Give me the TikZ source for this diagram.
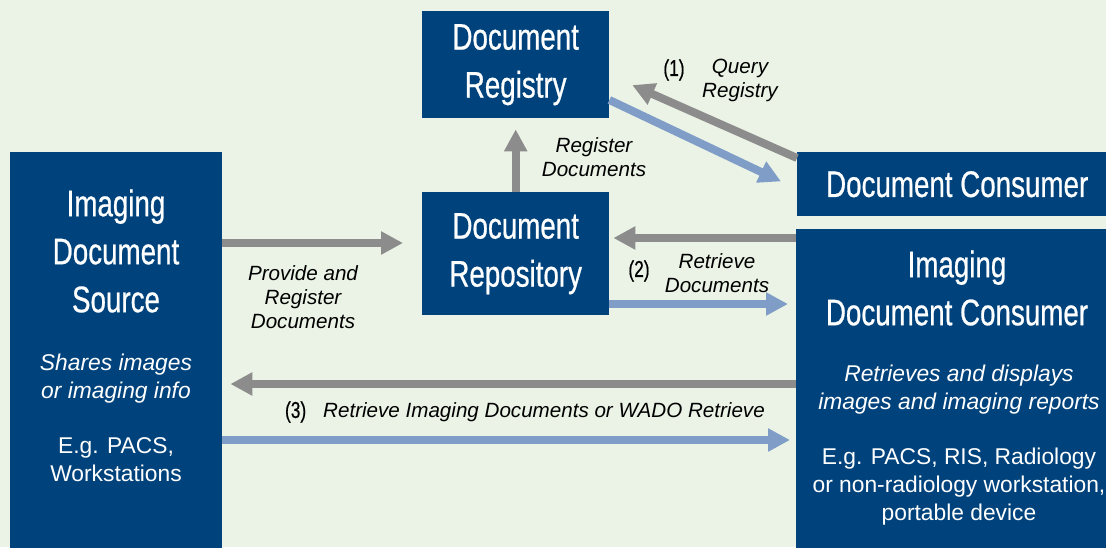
\documentclass[tikz,border=0pt]{standalone}
\usepackage{fontspec}
\setmainfont{Liberation Sans}
\newfontfamily\condfont[FakeStretch=0.75,FakeBold=0.6]{Liberation Sans}
\usetikzlibrary{arrows.meta,positioning}

\definecolor{boxblue}{RGB}{0,67,124}
\definecolor{paleground}{RGB}{234,243,229}
\definecolor{reqgray}{RGB}{140,140,140}
\definecolor{respblue}{RGB}{127,157,199}

\begin{document}
\begin{tikzpicture}[x=1pt, y=-1pt,
    actor/.style = {fill=boxblue, anchor=north west, inner sep=0pt, text=white, align=center, font=\condfont\fontsize{37}{48}\selectfont},
    caption/.style = {text=white, align=center, font=\condfont\fontsize{37}{48}\selectfont},
    detail/.style = {text=white, align=center, font=\fontsize{22.8}{28}\selectfont},
    tag/.style = {align=center, font=\itshape\fontsize{20.6}{24}\selectfont},
    stepno/.style = {font=\condfont\fontsize{23}{26}\selectfont},
    request/.style = {draw=reqgray, line width=8pt, -{Triangle[length=22pt,width=22pt]}},
    response/.style = {draw=respblue, line width=8pt, -{Triangle[length=22pt,width=22pt]}}]

    \useasboundingbox (0,0) rectangle (1106,547);
    \fill[paleground] (0,0) rectangle (1106,547);

    % actors
    \node[actor, minimum width=187pt, minimum height=107pt] (reg) at (422,11) {Document\\Registry};
    \node[actor, minimum width=187pt, minimum height=123pt] (repo) at (422,192) {Document\\Repository};
    \node[actor, minimum width=212pt, minimum height=420pt] (src) at (10,152) {};
    \node[actor, minimum width=320pt, minimum height=64pt] (dc) at (797,152) {Document Consumer};
    \node[actor, minimum width=322pt, minimum height=340pt] (idc) at (796,229) {};

    \node[caption] (srctitle) at (116,251) {Imaging\\Document\\Source};
    \node[detail] (srcinfo) at (116,418) {\textit{Shares images}\\\textit{or imaging info}\\[27pt]E.g. PACS,\\Workstations};
    \node[caption] (idctitle) at (957,288) {Imaging\\Document Consumer};
    \node[detail] (idcinfo) at (959,445) {\textit{Retrieves and displays}\\\textit{images and imaging reports}\\[27pt]E.g. PACS, RIS, Radiology\\or non-radiology workstation,\\portable device};

    % transactions
    \draw[request, shorten >=19pt] (src.east |- 0,243) -- (repo.west |- 0,243);
    \draw[request, shorten >=11pt] (repo.north) -- (reg.south);
    \draw[response, shorten >=17.7pt] (reg.east |- 0,100) -- (dc.west |- 0,189);
    \draw[request, shorten >=25pt] ([yshift=-6pt]dc.north west) -- (reg.east |- 0,75);
    \draw[request, shorten >=4pt] (idc.west |- 0,238) -- (repo.east |- 0,238);
    \draw[response, shorten >=8pt] (repo.east |- 0,304) -- (idc.west |- 0,304);
    \draw[request, shorten >=8pt] (idc.west |- 0,384) -- (src.east |- 0,384);
    \draw[response, shorten >=6pt] (src.east |- 0,440) -- (idc.west |- 0,440);

    \node[tag] (regtag) at (594,157) {Register\\Documents};
    \node[stepno] (one) at (674,70) {(1)};
    \node[tag] (querytag) at (740,80) {Query\\Registry};
    \node[tag] (providetag) at (303,297) {Provide and\\Register\\Documents};
    \node[stepno] (two) at (639,271) {(2)};
    \node[tag] (retrievetag) at (717,273) {Retrieve\\Documents};
    \node[tag] (imagingtag) at (544,412) {Retrieve Imaging Documents or WADO Retrieve};
    \node[stepno, left=10pt of imagingtag] (three) {(3)};
\end{tikzpicture}
\end{document}
